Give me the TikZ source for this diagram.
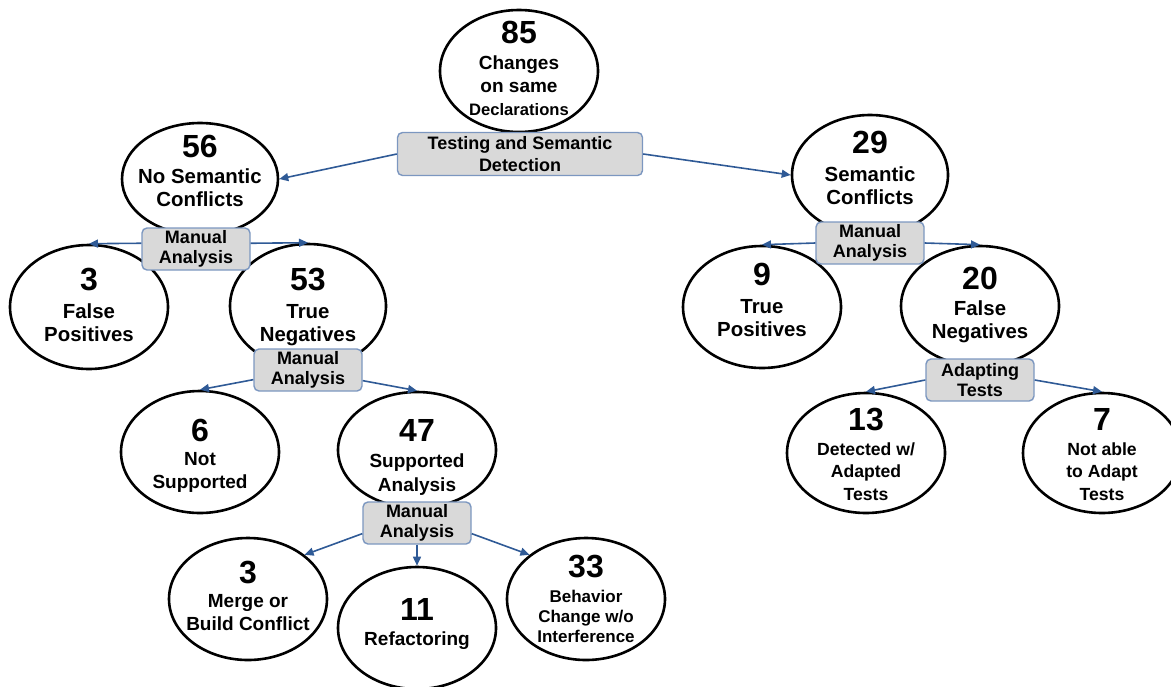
\documentclass[tikz,border=0pt]{standalone}
\usepackage{fontspec}
\setmainfont{Liberation Sans}
\usepackage{xcolor}
\usetikzlibrary{shapes.geometric, arrows.meta, positioning, calc}
\definecolor{flowblue}{HTML}{2F5A96}
\definecolor{boxgray}{HTML}{D9D9D9}
\definecolor{boxedge}{HTML}{7C97C0}
\newcommand{\bignum}[1]{{\fontsize{16}{18}\selectfont #1}}

\begin{document}
\begin{tikzpicture}[x=0.5pt, y=-0.5pt,
  outcome/.style={ellipse, draw, line width=1.3pt, minimum width=79pt, minimum height=61pt, inner sep=0pt},
  counttxt/.style={align=center, inner sep=0pt, anchor=north, font=\bfseries\fontsize{10.2}{11.5}\selectfont},
  counttxtsm/.style={counttxt, font=\bfseries\fontsize{9.5}{11.7}\selectfont},
  counttxtxs/.style={counttxt, font=\bfseries\fontsize{8.8}{11.3}\selectfont},
  method/.style={rectangle, rounded corners=2.5pt, draw=boxedge, line width=0.7pt, fill=boxgray, inner sep=0pt, minimum width=54pt, minimum height=21pt, align=center, font=\bfseries\fontsize{9}{10}\selectfont},
  flow/.style={color=flowblue, line width=0.8pt, -{Triangle[length=4.5pt,width=4pt]}}]
\useasboundingbox (0,0) rectangle (1171,686);

% Ellipses
\node[outcome] (total) at (519,71) {};
\node[outcome, minimum width=78pt, minimum height=56pt] (nosem) at (200,179) {};
\node[outcome, minimum width=78pt, minimum height=60pt] (sem) at (870,175) {};
\node[outcome, minimum height=62pt] (fp) at (89,307) {};
\node[outcome, minimum width=78pt, minimum height=62pt] (tn) at (308,306) {};
\node[outcome] (tp) at (762,307) {};
\node[outcome, minimum height=60pt] (fneg) at (980,306) {};
\node[outcome] (notsup) at (200,452) {};
\node[outcome, minimum height=58pt] (supp) at (417,450) {};
\node[outcome] (mergec) at (248,599) {};
\node[outcome] (refac) at (417,628) {};
\node[outcome] (behav) at (586,599) {};
\node[outcome, minimum height=60pt] (detadapt) at (866,453) {};
\node[outcome, minimum height=60pt] (notadapt) at (1102,453) {};

% Counts and labels
\node[counttxtsm] (total-t) at (519,21) {\bignum{85}\\[1pt] Changes\\on same\\{\fontsize{8.3}{10}\selectfont Declarations}};
\node[counttxt] (nosem-t) at (200,135) {\bignum{56}\\[1.5pt] No Semantic\\Conflicts};
\node[counttxt] (sem-t) at (870,131) {\bignum{29}\\[2.5pt] Semantic\\Conflicts};
\node[counttxt] (fp-t) at (89,268) {\bignum{3}\\[2.5pt] False\\Positives};
\node[counttxt] (tn-t) at (308,268) {\bignum{53}\\[2.5pt] True\\Negatives};
\node[counttxt] (tp-t) at (762,263) {\bignum{9}\\[2.5pt] True\\Positives};
\node[counttxt] (fneg-t) at (980,267) {\bignum{20}\\[1.5pt] False\\Negatives};
\node[counttxtsm] (notsup-t) at (200,419) {\bignum{6}\\[0pt] Not\\Supported};
\node[counttxtsm] (supp-t) at (417,419) {\bignum{47}\\[1.5pt] Supported\\Analysis};
\node[counttxtsm] (mergec-t) at (248,561) {\bignum{3}\\[0pt] Merge or\\Build Conflict};
\node[counttxtsm] (refac-t) at (417,598) {\bignum{11}\\[1pt] Refactoring};
\node[counttxtxs, font=\bfseries\fontsize{8.5}{10}\selectfont] (behav-t) at (586,555) {\bignum{33}\\[2.5pt] Behavior\\Change w/o\\Interference};
\node[counttxtxs] (detadapt-t) at (866,408) {\bignum{13}\\[1pt] Detected w/\\Adapted\\Tests};
\node[counttxtxs] (notadapt-t) at (1102,408) {\bignum{7}\\[1pt] Not able\\to Adapt\\Tests};

% Analysis steps
\node[method, minimum width=122.5pt, minimum height=21.5pt, font=\bfseries\fontsize{9}{11}\selectfont] (testbox) at (520,154) {Testing and Semantic\\Detection};
\node[method] (manA) at (196,249) {Manual\\Analysis};
\node[method] (manB) at (308,370) {Manual\\Analysis};
\node[method] (manC) at (417,523) {Manual\\Analysis};
\node[method] (manD) at (870,243) {Manual\\Analysis};
\node[method] (adapt) at (980,380) {Adapting\\Tests};

% Arrows
\draw[flow] (testbox.west) -- (nosem.east);
\draw[flow] (testbox.east) -- (sem.west);
\draw[flow] (manA.174) -- (fp.north);
\draw[flow] (manA.6) -- (tn.north);
\draw[flow] (manB.190) -- (notsup.north);
\draw[flow] (manB.-11) -- (supp.north);
\draw[flow] (manC.191) -- (mergec.38);
\draw[flow] (manC.south) -- (refac.north);
\draw[flow] (manC.-11) -- (behav.142);
\draw[flow] (manD.west) -- (tp.north);
\draw[flow] (manD.east) -- (fneg.north);
\draw[flow] (adapt.west) -- (detadapt.north);
\draw[flow] (adapt.east) -- (notadapt.north);
\end{tikzpicture}
\end{document}
